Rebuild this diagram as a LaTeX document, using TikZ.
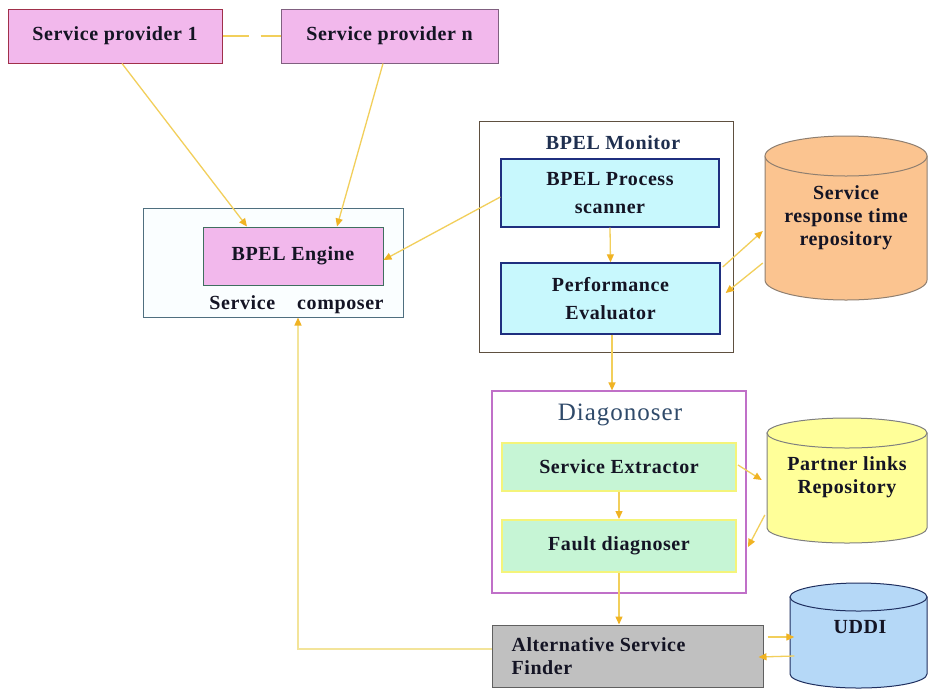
\documentclass[tikz,border=0pt]{standalone}
\usepackage{fontspec}
\setmainfont{Liberation Serif}
\newfontfamily\dfont[LetterSpace=3]{Liberation Serif}
\newfontfamily\tfont[LetterSpace=4]{Liberation Serif}
\usetikzlibrary{arrows.meta}
\definecolor{pinkf}{HTML}{F2B8EC}
\definecolor{spone}{HTML}{A0304A}
\definecolor{spnc}{HTML}{806080}
\definecolor{engc}{HTML}{3F6F5F}
\definecolor{compc}{HTML}{4F6F7F}
\definecolor{compf}{HTML}{FAFEFF}
\definecolor{monc}{HTML}{5F5040}
\definecolor{cyanf}{HTML}{C8F8FD}
\definecolor{navyc}{HTML}{1F2F7F}
\definecolor{diagc}{HTML}{C070C8}
\definecolor{greenf}{HTML}{C6F5D5}
\definecolor{yelb}{HTML}{F4F47A}
\definecolor{srtf}{HTML}{FBC490}
\definecolor{srtc}{HTML}{8F7F70}
\definecolor{plf}{HTML}{FFFF99}
\definecolor{plc}{HTML}{808080}
\definecolor{uddif}{HTML}{B5D8F7}
\definecolor{uddic}{HTML}{1F2F5F}
\definecolor{altf}{HTML}{C0C0C0}
\definecolor{altc}{HTML}{606060}
\definecolor{linec}{HTML}{F2CF5B}
\definecolor{palec}{HTML}{F3E49A}
\definecolor{headc}{HTML}{F0B323}
\definecolor{txtc}{HTML}{141424}
\definecolor{titc}{HTML}{1F2F4F}
\definecolor{diagt}{HTML}{2F4A6A}
\begin{document}
\begin{tikzpicture}[x=1pt,y=1pt,
  box/.style={draw, inner sep=0pt, line width=1pt},
  txt/.style={font=\dfont\bfseries\fontsize{20}{23}\selectfont, text=txtc, align=center},
  wtxt/.style={font=\dfont\bfseries\fontsize{20}{28}\selectfont, text=txtc, align=center},
  conn/.style={draw=linec, line width=1.3pt, -{Triangle[length=8pt,width=7pt,color=headc]}},
  cylbody/.style={line width=1pt}]
\useasboundingbox[fill=white] (0,0) rectangle (928,-689);

% containers
\node[box, draw=compc, fill=compf, minimum width=260, minimum height=109] (comp) at (273,-262.5) {};
\node[box, draw=monc, fill=white, minimum width=254, minimum height=231] (mon) at (606,-236.5) {};
\node[box, draw=diagc, fill=white, line width=1.2pt, minimum width=254, minimum height=202] (diag) at (619,-492) {};

% providers
\node[box, txt, draw=spone, fill=pinkf, minimum width=214, minimum height=54] (sp1) at (115,-36) {Service provider 1};
\node[box, txt, draw=spnc, fill=pinkf, minimum width=217, minimum height=54] (spn) at (389.5,-36) {Service provider n};

% composer
\node[box, txt, draw=engc, fill=pinkf, minimum width=180, minimum height=58] (eng) at (293,-256) {BPEL Engine};
\node[txt] (complbl) at (296.5,-305) {Service\hspace{22pt}composer};

% monitor
\node[txt, text=titc] (montitle) at (613,-143) {BPEL Monitor};
\node[box, wtxt, draw=navyc, fill=cyanf, line width=1.4pt, minimum width=218, minimum height=68] (scan) at (610,-193) {BPEL Process\\scanner};
\node[box, wtxt, draw=navyc, fill=cyanf, line width=1.4pt, minimum width=219, minimum height=71] (perf) at (610.5,-298.5) {Performance\\Evaluator};

% diagnoser
\node[font=\tfont\fontsize{25}{28}\selectfont, text=diagt] (diagtitle) at (620,-415) {Diagonoser};
\node[box, txt, draw=yelb, fill=greenf, line width=2pt, minimum width=234, minimum height=48] (se) at (619,-467) {Service Extractor};
\node[box, txt, draw=yelb, fill=greenf, line width=2pt, minimum width=234, minimum height=52] (fd) at (619,-546) {Fault diagnoser};

% alternative finder
\node[box, draw=altc, fill=altf, minimum width=271, minimum height=62] (alt) at (627.5,-656) {};
\node[txt, align=left, anchor=west] (alttxt) at (508,-656) {Alternative Service\\Finder};

% cylinder: service response time repository
\path[draw=srtc, fill=srtf, cylbody] (765,-156) -- (765,-280) arc[start angle=180, end angle=360, x radius=81, y radius=20] -- (927,-156) -- cycle;
\path[draw=srtc, fill=srtf, cylbody] (846,-156) ellipse [x radius=81, y radius=20];
\node[txt, inner sep=0pt, minimum width=162, minimum height=164] (srt) at (846,-218) {Service\\response time\\repository};

% cylinder: partner links
\path[draw=plc, fill=plf, cylbody] (767,-433) -- (767,-528) arc[start angle=180, end angle=360, x radius=80, y radius=15] -- (927,-433) -- cycle;
\path[draw=plc, fill=plf, cylbody] (847,-433) ellipse [x radius=80, y radius=15];
\node[txt, inner sep=0pt, minimum width=160, minimum height=120] (pl) at (847,-477) {Partner links\\Repository};

% cylinder: UDDI
\path[draw=uddic, fill=uddif, cylbody] (790,-597) -- (790,-674) arc[start angle=180, end angle=360, x radius=68.5, y radius=14] -- (927,-597) -- cycle;
\path[draw=uddic, fill=uddif, cylbody] (858.5,-597) ellipse [x radius=68.5, y radius=14];
\node[txt, inner sep=0pt, minimum width=137, minimum height=40] (uddi) at (860,-627) {UDDI};

% connectors
\draw[draw=linec, line width=1.3pt, dash pattern=on 26pt off 12pt] (sp1.east) -- (spn.west);
\draw[conn] ([xshift=7]sp1.south) -- ([xshift=-46]eng.north);
\draw[conn] ([xshift=-6.5]spn.south) -- ([xshift=44]eng.north);
\draw[conn] ([yshift=-4]scan.west) -- ([yshift=-4]eng.east);
\draw[conn] (scan.south) -- (perf.north);
\draw[conn] ([xshift=2,yshift=31.5]perf.east) -- ([xshift=-2,yshift=-13]srt.west);
\draw[conn] ([xshift=-2,yshift=-45]srt.west) -- ([xshift=5,yshift=5.5]perf.east);
\draw[conn] ([xshift=1.5]perf.south) -- ([xshift=1.5]perf.south |- diag.north);
\draw[conn] ([xshift=1,yshift=2]se.east) -- ([xshift=-5,yshift=-3]pl.west);
\draw[conn] ([xshift=-2,yshift=-38]pl.west) -- ([xshift=11,yshift=-1]fd.east);
\draw[conn] (se.south) -- (fd.north);
\draw[conn] (fd.south) -- (fd.south |- alt.north);
\draw[conn, draw=palec] ([yshift=7]alt.west) -| ([xshift=25]comp.south);
\draw[conn] ([xshift=4,yshift=19]alt.east) -- ([xshift=3,yshift=-10]uddi.west);
\draw[conn] ([xshift=3,yshift=-29]uddi.west) -- ([xshift=-5,yshift=-1]alt.east);
\end{tikzpicture}
\end{document}
